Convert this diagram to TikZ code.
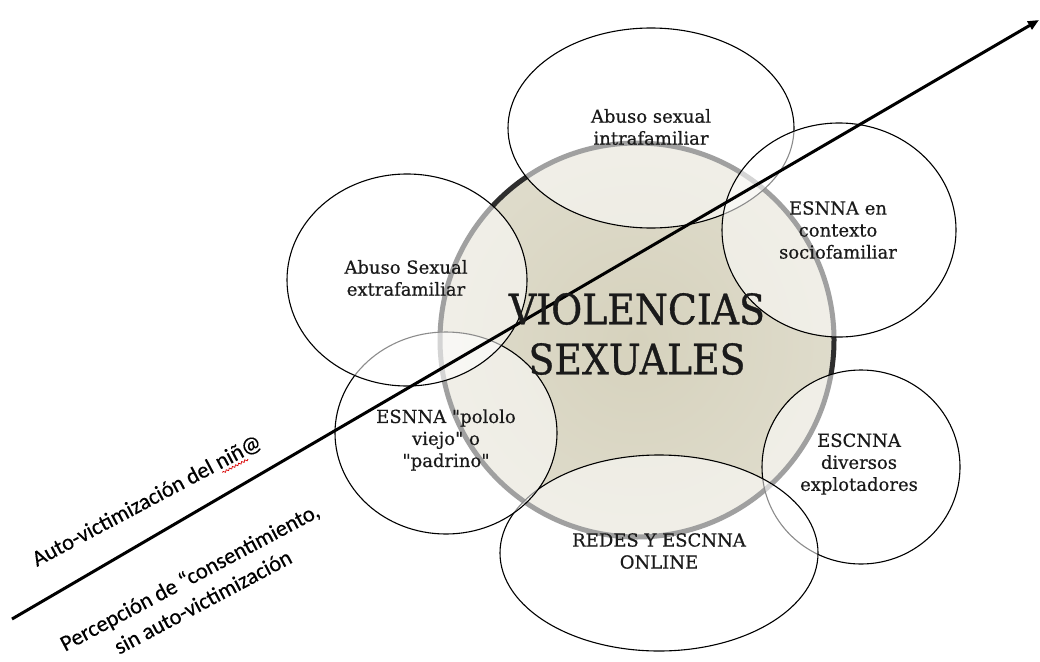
\documentclass[tikz,border=0pt]{standalone}
\usepackage{fontspec}
\setmainfont{DejaVu Serif}[Ligatures=TeXOff, FakeBold=0.5]
\newfontfamily\titlefont{DejaVu Serif}[FakeStretch=0.9, FakeBold=0.8]
\newfontfamily\lblfont{Carlito}[FakeBold=0.4]
\usetikzlibrary{shapes.geometric,arrows.meta,decorations.pathmorphing}
\definecolor{vin}{HTML}{D6D2BD}
\definecolor{vout}{HTML}{E7E5D9}
\definecolor{rimc}{HTML}{2E2E2E}
\definecolor{txtc}{HTML}{1A1A1A}
\pgfdeclareradialshading{vshade}{\pgfpoint{0bp}{0bp}}{color(0bp)=(vin); color(50bp)=(vout)}
\tikzset{
  bub/.style={ellipse, draw=black, line width=1.1pt, fill=white, fill opacity=0.55, inner sep=0pt},
  lbl/.style={align=center, text=txtc, font=\fontsize{18}{22}\selectfont},
  ttl/.style={align=center, text=txtc, font=\titlefont\fontsize{42}{50}\selectfont},
  axis/.style={line width=3pt, -{Triangle[length=11pt,width=9pt]}},
  side/.style={align=center, text=black, rotate=28, font=\lblfont\fontsize{22.5}{28}\selectfont},
  squig/.style={red!85!black, line width=0.7pt, decorate, decoration={snake, amplitude=1pt, segment length=3.5pt}}
}
\begin{document}
\begin{tikzpicture}[x=1pt,y=-1pt]
\useasboundingbox (0,0) rectangle (1040,661);
\fill[white] (0,0) rectangle (1040,661);
% central circle
\node[circle, minimum size=394pt, inner sep=0pt, shading=vshade, draw=rimc, line width=5pt] (core) at (637,340) {};
% surrounding ellipses (clockwise from top)
\node[bub, minimum width=286pt, minimum height=200pt] (e1) at (651,128) {};
\node[bub, minimum width=234pt, minimum height=214pt] (e2) at (839,230) {};
\node[bub, minimum width=198pt, minimum height=194pt] (e6) at (861,467) {};
\node[bub, minimum width=318pt, minimum height=196pt] (e5) at (659,553) {};
\node[bub, minimum width=222pt, minimum height=202pt] (e4) at (446,433) {};
\node[bub, minimum width=240pt, minimum height=212pt] (e3) at (407,280) {};
% arrow
\coordinate (as) at (12,619);
\coordinate (ae) at (1039,20);
\draw[axis] (as) -- (ae);
% texts
\node[ttl] (t0) at (637,334) {VIOLENCIAS\\SEXUALES};
\node[lbl] (t1) at (651,127) {Abuso sexual\\intrafamiliar};
\node[lbl] (t2) at (838,230) {ESNNA en\\contexto\\sociofamiliar};
\node[lbl] (t6) at (859,464) {ESCNNA\\diversos\\explotadores};
\node[lbl] (t5) at (659,551) {REDES Y ESCNNA\\ONLINE};
\node[lbl] (t4) at (446,440) {ESNNA "pololo\\viejo" o\\"padrino"};
\node[lbl] (t3) at (406,278) {Abuso Sexual\\extrafamiliar};
\node[side] (s1) at (147,501) {Auto-victimización del niñ@};
\node[side] (s2) at (196,589) {Percepción de “consentimiento,\\sin auto-victimización};
\begin{scope}[shift={(s1.base)}, rotate=28]
  \coordinate (w1) at (80,4);
  \coordinate (w2) at (109,4);
  \draw[squig] (w1) -- (w2);
\end{scope}
\end{tikzpicture}
\end{document}
